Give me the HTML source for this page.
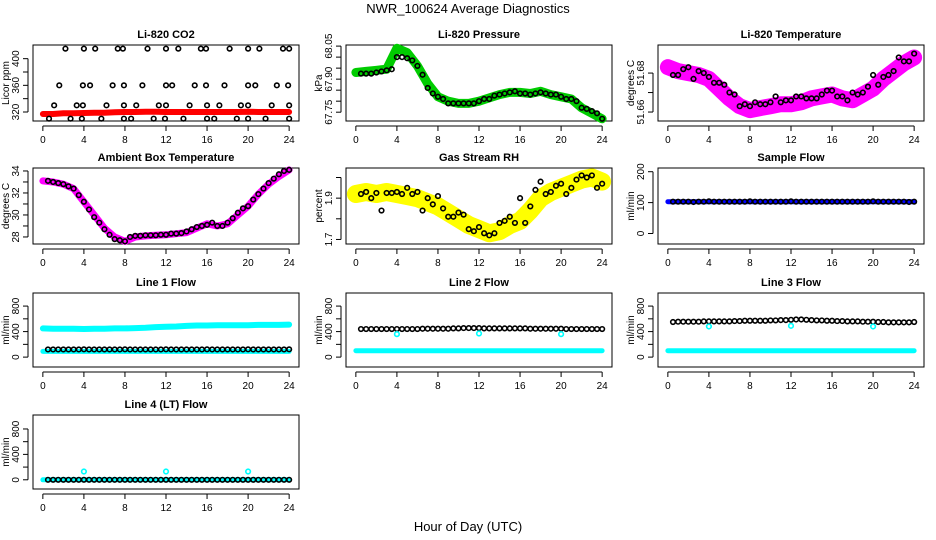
<!DOCTYPE html>
<html><head><meta charset="utf-8">
<style>
html,body{margin:0;padding:0;background:#fff;}
svg{display:block;font-family:"Liberation Sans",Arial,sans-serif;}
.t{font-weight:bold;font-size:11px;}
.tk{font-size:10px;}
</style></head>
<body>
<svg id="chart" width="936" height="540" viewBox="0 0 936 540">
<text x="468" y="13" text-anchor="middle" font-size="13">NWR_100624  Average Diagnostics</text>
<text x="468" y="531" text-anchor="middle" font-size="13">Hour of Day (UTC)</text>
</svg>
<script>
// ---- shared data ----
const bandHours = [0,1,2,3,4,5,6,7,8,9,10,11,12,13,14,15,16,17,18,19,20,21,22,23,24];
const halfHours = [0.5,1,1.5,2,2.5,3,3.5,4,4.5,5,5.5,6,6.5,7,7.5,8,8.5,9,9.5,10,10.5,11,11.5,12,12.5,13,13.5,14,14.5,15,15.5,16,16.5,17,17.5,18,18.5,19,19.5,20,20.5,21,21.5,22,22.5,23,23.5,24];
const xTicks = [0,4,8,12,16,20,24];

// CO2
const co2Hours = [2.2,4,5.1,7.3,7.8,10.2,12,13.2,15.4,15.9,18.2,20,21.1,23.4,24, 1.6,3.9,4.6,6.8,7.9,9.7,12,12.6,14.8,15.9,17.7,20,20.7,22.8,23.9, 1.1,3.3,3.9,6.2,7.9,9.1,11.3,12,14.3,16,17.2,19.3,20,22.3,24, 0.6,2.7,3.8,5.7,7.9,8.6,10.8,11.9,13.7,16,16.7,18.9,20,21.7,24];
const co2Values = [415,415,415,415,415,415,415,415,415,415,415,415,415,415,415, 360,360,360,360,360,360,360,360,360,360,360,360,360,360,360, 330,330,330,330,330,330,330,330,330,330,330,330,330,330,330, 310,310,310,310,310,310,310,310,310,310,310,310,310,310,310];
const co2Band = [317,317,318,318,318.5,319,319,319.5,320,320,320.5,320.5,320,320,320,320,320,320,320,320,320.5,320,320,320,320];

// Pressure
const presBand = [67.93,67.935,67.94,67.945,68.04,68.02,67.96,67.88,67.82,67.80,67.79,67.79,67.80,67.815,67.83,67.84,67.84,67.835,67.845,67.83,67.82,67.81,67.77,67.745,67.72];
const presPts = [67.925,67.925,67.925,67.93,67.935,67.94,67.945,68.0,68.0,67.995,67.985,67.96,67.92,67.86,67.835,67.82,67.81,67.79,67.79,67.79,67.79,67.79,67.79,67.80,67.81,67.81,67.825,67.83,67.835,67.84,67.845,67.835,67.835,67.83,67.835,67.84,67.835,67.83,67.83,67.82,67.81,67.81,67.80,67.77,67.765,67.755,67.745,67.72];

// Li-820 Temperature
const tempBand = [51.683,51.681,51.680,51.679,51.677,51.672,51.667,51.663,51.661,51.662,51.663,51.664,51.664,51.665,51.667,51.668,51.669,51.667,51.666,51.669,51.672,51.677,51.681,51.685,51.688];
const tempPts = [51.679,51.679,51.682,51.683,51.677,51.681,51.680,51.678,51.675,51.675,51.674,51.670,51.669,51.663,51.664,51.663,51.665,51.664,51.664,51.665,51.668,51.665,51.666,51.666,51.668,51.668,51.667,51.667,51.667,51.669,51.671,51.671,51.668,51.668,51.666,51.670,51.669,51.670,51.673,51.679,51.674,51.678,51.679,51.681,51.688,51.686,51.686,51.690];

// Ambient box temperature
const ambBand = [33.1,33.0,32.8,32.4,31.2,30.0,28.8,28.0,27.6,28.0,28.1,28.15,28.2,28.3,28.4,28.8,29.2,29.0,29.2,30.0,30.8,31.9,32.8,33.5,34.1];
const ambPts = [33.1,33.0,32.9,32.8,32.6,32.4,31.8,31.2,30.5,29.8,29.3,28.7,28.2,27.8,27.7,27.6,28.0,28.1,28.1,28.15,28.15,28.15,28.2,28.2,28.3,28.3,28.35,28.5,28.7,28.9,29.0,29.1,29.3,29.0,29.0,29.3,29.7,30.2,30.6,30.8,31.4,31.9,32.4,32.9,33.3,33.7,34.0,34.1];

// Gas stream RH
const rhBand = [1.92,1.93,1.92,1.93,1.92,1.91,1.90,1.88,1.86,1.83,1.80,1.77,1.75,1.73,1.74,1.77,1.79,1.84,1.90,1.93,1.95,1.97,1.99,2.0,1.98];
const rhPts = [1.92,1.93,1.90,1.925,1.84,1.925,1.925,1.93,1.92,1.95,1.92,1.93,1.84,1.90,1.87,1.91,1.85,1.81,1.81,1.83,1.82,1.75,1.74,1.76,1.73,1.72,1.73,1.78,1.79,1.81,1.78,1.90,1.78,1.86,1.94,1.98,1.92,1.93,1.96,1.97,1.92,1.95,1.99,2.01,2.00,2.01,1.95,1.97];

// Sample flow
const sampBand = [103,103,103,103,103,103,103,103,103,103,103,103,103,103,103,103,103,103,103,103,103,103,103,103,103];
const sampPts = [103,103,103,103,102,103,103,104,103,103,103,103,103,103,103,104,103,103,103,103,103,103,103,104,103,103,103,103,103,103,103,103,103,103,103,103,103,103,103,104,103,103,103,103,103,103,102,103];

// Line 1 flow
const l1Upper = [450,445,445,445,440,445,445,450,450,455,460,470,475,480,490,495,495,500,500,500,500,505,505,505,510];
const l1Lower = [90,90,90,90,90,90,90,90,90,90,90,90,90,90,90,90,90,90,90,90,90,90,90,90,90];
const l1Pts = [120,120,120,120,120,120,120,122,120,120,120,120,120,120,120,122,120,120,120,120,120,120,120,122,120,120,120,120,120,120,120,122,120,120,120,120,120,120,120,122,120,120,120,120,120,120,120,122];

// Line 2 flow
const l2Lower = [100,100,100,100,100,100,100,100,100,100,100,100,100,100,100,100,100,100,100,100,100,100,100,100,100];
const l2Pts = [440,440,440,440,440,440,440,440,440,440,440,440,445,445,445,445,445,445,450,450,455,455,455,455,450,450,450,450,450,450,450,450,450,445,445,445,445,445,445,445,440,440,440,440,440,440,440,440];
const l2Outliers = [360,370,360];
const outlierHours = [4,12,20];

// Line 3 flow
const l3Lower = [100,100,100,100,100,100,100,100,100,100,100,100,100,100,100,100,100,100,100,100,100,100,100,100,100];
const l3Pts = [550,555,555,555,555,555,560,560,560,560,560,560,565,565,570,570,570,570,570,575,575,580,580,585,590,590,585,580,575,575,570,570,565,565,560,560,560,555,555,555,550,550,545,545,545,545,545,550];
const l3Outliers = [480,490,480];

// Line 4 flow
const l4Band = [0,0,0,0,0,0,0,0,0,0,0,0,0,0,0,0,0,0,0,0,0,0,0,0,0];
const l4Pts = [0,0,0,0,0,0,0,0,0,0,0,0,0,0,0,0,0,0,0,0,0,0,0,0,0,0,0,0,0,0,0,0,0,0,0,0,0,0,0,0,0,0,0,0,0,0,0,0];
const l4Outliers = [130,130,130];

// ---- drawing ----
const NS = "http://www.w3.org/2000/svg";
const svg = document.getElementById('chart');
function mk(tag, attrs, parent) {
  const e = document.createElementNS(NS, tag);
  for (const k in attrs) e.setAttribute(k, attrs[k]);
  (parent || svg).appendChild(e);
  return e;
}
const colsX = [[33,299],[346,612],[658,924]];
const rowsY = [[45,121],[168,244],[293,367],[415,489]];

function panel(name, title, col, row, ymin, ymax, yTicks, yLabels, ylab) {
  const [x0,x1] = colsX[col], [y0,y1] = rowsY[row];
  const g = mk('g', {});
  
  
  const xs = h => x0 + (h + 0.96) / 25.92 * (x1 - x0);
  const ys = v => y1 - (v - ymin) / (ymax - ymin) * (y1 - y0);
  const box = mk('rect', {x:x0, y:y0, width:x1-x0, height:y1-y0, fill:'none', stroke:'#000', 'stroke-width':1}, g);
  
  
  const tt = mk('text', {x:(x0+x1)/2, y:y0-7, 'text-anchor':'middle', class:'t'}, g);
  tt.textContent = title;
  
  
  // x axis
  mk('line', {x1:xs(0), x2:xs(24), y1:y1+5, y2:y1+5, stroke:'#000'}, g);
  xTicks.forEach(t => {
    mk('line', {x1:xs(t), x2:xs(t), y1:y1+5, y2:y1+10, stroke:'#000'}, g);
    const l = mk('text', {x:xs(t), y:y1+22, 'text-anchor':'middle', class:'tk'}, g);
    l.textContent = t;
    
    
  });
  // y axis
  const ax = x0 - 5;
  mk('line', {x1:ax, x2:ax, y1:ys(yTicks[0]), y2:ys(yTicks[yTicks.length-1]), stroke:'#000'}, g);
  yTicks.forEach(t => mk('line', {x1:ax-5, x2:ax, y1:ys(t), y2:ys(t), stroke:'#000'}, g));
  yLabels.forEach(t => {
    const l = mk('text', {x:0, y:0, 'text-anchor':'middle', class:'tk', transform:`translate(${ax-9},${ys(t)}) rotate(-90)`}, g);
    l.textContent = t;
    
    
  });
  const yl = mk('text', {x:0, y:0, 'text-anchor':'middle', class:'tk', transform:`translate(${x0-24},${(y0+y1)/2}) rotate(-90)`}, g);
  yl.textContent = ylab;
  
  
  return {g, xs, ys};
}
function band(p, hours, vals, color, w, name) {
  const pts = hours.map((h,i) => p.xs(h).toFixed(1) + ',' + p.ys(vals[i]).toFixed(1)).join(' ');
  const pl = mk('polyline', {points:pts, fill:'none', stroke:color, 'stroke-width':w, 'stroke-linejoin':'round', 'stroke-linecap':'round'}, p.g);
  
  
}
function dots(p, hours, vals, color, name, r) {
  hours.forEach((h,i) => {
    const c = mk('circle', {cx:p.xs(h), cy:p.ys(vals[i]), r:r||2.3, fill:'none', stroke:color, 'stroke-width':1.6}, p.g);
    
    
  });
}

// Row 1
let p = panel('co2', 'Li-820 CO2', 0, 0, 306.5, 420.5, [320,340,360,380,400], [320,360,400], 'Licor ppm');
band(p, bandHours, co2Band, '#ff0000', 6, 'co2-band');
dots(p, co2Hours, co2Values, '#000', 'co2-point');

p = panel('pressure', 'Li-820 Pressure', 1, 0, 67.71, 68.055, [67.75,67.8,67.85,67.9,67.95,68.0,68.05], ['67.75','67.90','68.05'], 'kPa');
band(p, bandHours, presBand, '#00cc00', 9, 'pressure-band');
dots(p, halfHours, presPts, '#000', 'pressure-point');

p = panel('li820-temp', 'Li-820 Temperature', 2, 0, 51.6554, 51.6944, [51.66,51.67,51.68], ['51.66','51.68'], 'degrees C');
band(p, bandHours, tempBand, '#ff00ff', 16, 'temperature-band');
dots(p, halfHours, tempPts, '#000', 'temperature-point');

// Row 2
p = panel('ambient', 'Ambient Box Temperature', 0, 1, 27.36, 34.27, [28,29,30,31,32,33,34], [28,30,32,34], 'degrees C');
band(p, bandHours, ambBand, '#ff00ff', 7, 'ambient-band');
dots(p, halfHours, ambPts, '#000', 'ambient-point');

p = panel('rh', 'Gas Stream RH', 1, 1, 1.678, 2.046, [1.7,1.8,1.9,2.0], ['1.7','1.9'], 'percent');
band(p, bandHours, rhBand, '#ffff00', 18, 'rh-band');
dots(p, halfHours, rhPts, '#000', 'rh-point');

p = panel('sample-flow', 'Sample Flow', 2, 1, -34, 212, [0,100,200], [0,100,200], 'ml/min');
band(p, bandHours, sampBand, '#0000ff', 5, 'sample-band');
dots(p, halfHours, sampPts, '#000', 'sample-point');

// Row 3
const flowTicks = [0,200,400,600,800], flowLabels = [0,400,800];
p = panel('line1', 'Line 1 Flow', 0, 2, -155, 1005, flowTicks, flowLabels, 'ml/min');
band(p, bandHours, l1Upper, '#00ffff', 6, 'line1-upper-band');
band(p, bandHours, l1Lower, '#00ffff', 5, 'line1-lower-band');
dots(p, halfHours, l1Pts, '#000', 'line1-point');

p = panel('line2', 'Line 2 Flow', 1, 2, -155, 1005, flowTicks, flowLabels, 'ml/min');
band(p, bandHours, l2Lower, '#00ffff', 5, 'line2-lower-band');
dots(p, halfHours, l2Pts, '#000', 'line2-point');
dots(p, outlierHours, l2Outliers, '#00ffff', 'line2-outlier');

p = panel('line3', 'Line 3 Flow', 2, 2, -155, 1005, flowTicks, flowLabels, 'ml/min');
band(p, bandHours, l3Lower, '#00ffff', 5, 'line3-lower-band');
dots(p, halfHours, l3Pts, '#000', 'line3-point');
dots(p, outlierHours, l3Outliers, '#00ffff', 'line3-outlier');

// Row 4
p = panel('line4', 'Line 4 (LT) Flow', 0, 3, -145, 1020, flowTicks, flowLabels, 'ml/min');
band(p, bandHours, l4Band, '#00ffff', 5, 'line4-band');
dots(p, halfHours, l4Pts, '#000', 'line4-point');
dots(p, outlierHours, l4Outliers, '#00ffff', 'line4-outlier');
</script>
</body></html>
